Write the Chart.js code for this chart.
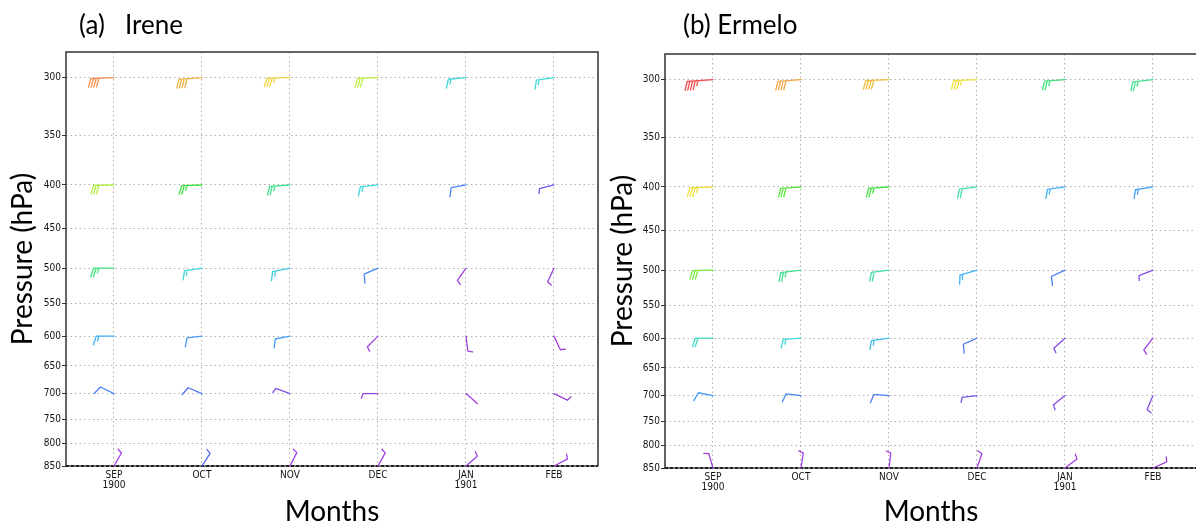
<!DOCTYPE html>
<html>
<head>
<meta charset="utf-8">
<script src="https://cdn.jsdelivr.net/npm/chart.js@4.4.1/dist/chart.umd.min.js"></script>
<style>
  html, body { margin: 0; padding: 0; background: #fff; overflow: hidden; }
  body { width: 1196px; height: 528px; position: relative; }
  .panel { position: absolute; top: 0; width: 600px; height: 528px; }
  .panel canvas { display: block; }
  .caption { position: absolute; top: 8px; font-family: Lato, "Open Sans", sans-serif; font-size: 26px; color: #000; white-space: pre; }
</style>
</head>
<body>
<div class="panel" style="left:0"><canvas id="windIrene" width="600" height="528"></canvas></div>
<div class="panel" style="left:600px"><canvas id="windErmelo" width="600" height="528"></canvas></div>
<div class="caption" style="left:79px">(a)</div>
<div class="caption" style="left:125px">Irene</div>
<div class="caption" style="left:683px">(b) Ermelo</div>
<script>
// months on the x axis, pressure levels on the y axis
const months = ["SEP", "OCT", "NOV", "DEC", "JAN", "FEB"];
const monthYears = ["1900", "", "", "", "1901", ""];
const levels = [300, 400, 500, 600, 700, 850];
const pressureTicks = [300, 350, 400, 450, 500, 550, 600, 650, 700, 750, 800, 850];

// wind speed (kt), one row per level, one column per month
const ireneSpeed = [
  [42, 39, 36, 32, 17, 17],
  [31, 27, 23, 17, 10, 6],
  [24, 17, 16, 10, 4, 4],
  [14, 12, 12, 4, 4, 4],
  [10, 8, 5, 4, 2, 4],
  [4, 7, 4, 4, 4, 4],
];
// wind direction (deg, blowing from)
const ireneDir = [
  [268, 266, 269, 268, 265, 262],
  [269, 268, 266, 264, 260, 256],
  [270, 261, 259, 247, 215, 205],
  [270, 263, 259, 225, 173, 155],
  [296, 293, 290, 270, 131, 116],
  [30, 33, 27, 29, 49, 63],
];

const ermeloSpeed = [
  [46, 40, 38, 35, 24, 23],
  [35, 28, 27, 22, 14, 13],
  [29, 23, 22, 14, 9, 5],
  [19, 17, 15, 9, 5, 4],
  [12, 10, 9, 6, 5, 5],
  [4, 4, 4, 4, 4, 4],
];
const ermeloDir = [
  [266, 266, 268, 268, 266, 264],
  [268, 266, 266, 263, 262, 261],
  [269, 263, 263, 254, 245, 249],
  [270, 266, 262, 246, 228, 218],
  [281, 277, 275, 263, 231, 203],
  [344, 9, 7, 19, 53, 66],
];

// speed -> rainbow colour
const speedColors = [
  [0, "#a040e0"], [4, "#a040e0"], [7, "#5068f0"], [11, "#4890f8"],
  [14, "#40b0f8"], [17, "#40d8d8"], [22, "#40e0a0"], [27, "#40e040"],
  [31, "#b0f040"], [35, "#f0e040"], [39, "#f0b040"], [42, "#f09050"],
  [46, "#f05050"],
];

function hexRgb(h) {
  return [1, 3, 5].map((i) => parseInt(h.substr(i, 2), 16));
}

function colorForSpeed(s) {
  if (s <= speedColors[0][0]) return speedColors[0][1];
  for (let i = 1; i < speedColors.length; i++) {
    const [s1, c1] = speedColors[i];
    if (s <= s1) {
      const [s0, c0] = speedColors[i - 1];
      const t = (s - s0) / (s1 - s0);
      const a = hexRgb(c0), b = hexRgb(c1);
      const m = a.map((v, k) => Math.round(v + (b[k] - v) * t));
      return `rgb(${m[0]},${m[1]},${m[2]})`;
    }
  }
  return speedColors[speedColors.length - 1][1];
}

// staff points into the wind, feathers sit on the southern-hemisphere side
function drawBarb(ctx, x, y, spd, dir) {
  const halves = Math.round(spd / 5);
  const full = Math.floor(halves / 2);
  const nLines = full + (halves % 2);
  const step = 2.7;
  const len = 15 + step * Math.max(nLines - 1, 0);
  const rad = (dir * Math.PI) / 180;
  const ux = Math.sin(rad), uy = -Math.cos(rad);
  const a = (-72 * Math.PI) / 180;
  const fx = ux * Math.cos(a) - uy * Math.sin(a);
  const fy = ux * Math.sin(a) + uy * Math.cos(a);

  ctx.save();
  ctx.strokeStyle = colorForSpeed(spd);
  ctx.lineWidth = 1.3;
  ctx.lineCap = "round";
  ctx.beginPath();
  ctx.moveTo(x, y);
  ctx.lineTo(x + ux * len, y + uy * len);
  for (let i = 0; i < nLines; i++) {
    const pos = len - i * step;
    const bx = x + ux * pos, by = y + uy * pos;
    const fl = i < full ? 9 : 5;
    ctx.moveTo(bx, by);
    ctx.lineTo(bx + fx * fl, by + fy * fl);
  }
  ctx.stroke();
  ctx.restore();
}

const frameBox = {
  id: "frameBox",
  beforeDatasetsDraw(chart) {
    const { ctx, chartArea: ca } = chart;
    ctx.save();
    ctx.strokeStyle = "#333";
    ctx.lineWidth = 1.5;
    ctx.beginPath();
    ctx.moveTo(ca.left, ca.bottom);
    ctx.lineTo(ca.left, ca.top);
    ctx.lineTo(ca.right, ca.top);
    ctx.lineTo(ca.right, ca.bottom);
    ctx.stroke();
    // bottom edge: grey line under a dark dashed one
    ctx.strokeStyle = "#777";
    ctx.lineWidth = 2;
    ctx.beginPath();
    ctx.moveTo(ca.left, ca.bottom);
    ctx.lineTo(ca.right, ca.bottom);
    ctx.stroke();
    ctx.setLineDash([3, 2]);
    ctx.strokeStyle = "#222";
    ctx.beginPath();
    ctx.moveTo(ca.left, ca.bottom);
    ctx.lineTo(ca.right, ca.bottom);
    ctx.stroke();
    ctx.restore();
  },
};

const windBarbs = {
  id: "windBarbs",
  afterDatasetsDraw(chart) {
    const { ctx } = chart;
    const { speed, dir } = chart.options.plugins.windBarbs;
    const xs = chart.scales.x, ys = chart.scales.y;
    levels.forEach((lev, r) => {
      months.forEach((m, c) => {
        drawBarb(ctx, xs.getPixelForValue(c), ys.getPixelForValue(lev), speed[r][c], dir[r][c]);
      });
    });
  },
};

const tickFont = { family: "'DejaVu Sans Condensed', 'Liberation Sans Narrow', sans-serif", size: 10, lineHeight: 1.05 };
const titleFont = { family: "Lato, 'Open Sans', sans-serif", size: 28 };

function windChart(id, speed, dir, pad, axisWidth, axisHeight) {
  const canvas = document.querySelector(id);
  return new Chart(canvas, {
    type: "scatter",
    data: {
      datasets: [
        {
          data: levels.flatMap((lev) => months.map((m, c) => ({ x: c, y: lev }))),
          pointRadius: 0,
          pointHoverRadius: 0,
        },
      ],
    },
    options: {
      responsive: false,
      animation: false,
      events: [],
      layout: { padding: pad },
      plugins: {
        legend: { display: false },
        tooltip: { enabled: false },
        windBarbs: { speed: speed, dir: dir },
      },
      scales: {
        x: {
          type: "linear",
          min: -0.545,
          max: 5.5,
          afterBuildTicks: (s) => {
            s.ticks = months.map((m, i) => ({ value: i }));
          },
          afterFit: (s) => {
            s.height = axisHeight;
          },
          ticks: {
            autoSkip: false,
            maxRotation: 0,
            padding: 4,
            color: "#111",
            font: tickFont,
            callback: (v) => (monthYears[v] ? [months[v], monthYears[v]] : months[v]),
          },
          grid: { color: "#b0b0b0", drawTicks: false },
          border: { display: false, dash: [1.5, 3] },
          title: {
            display: true,
            text: "Months",
            color: "#000",
            font: titleFont,
            padding: { top: 0, bottom: -1 },
          },
        },
        y: {
          type: "logarithmic",
          reverse: true,
          min: 280,
          max: 850,
          afterBuildTicks: (s) => {
            s.ticks = pressureTicks.map((v) => ({ value: v }));
          },
          afterFit: (s) => {
            s.width = axisWidth;
          },
          ticks: {
            autoSkip: false,
            padding: 1,
            color: "#111",
            font: tickFont,
            callback: (v) => String(v),
          },
          grid: { color: "#b0b0b0", tickLength: 4, tickColor: "#333", tickBorderDash: [] },
          border: { display: false, dash: [1.5, 3] },
          title: {
            display: true,
            text: "Pressure (hPa)",
            color: "#000",
            font: titleFont,
            padding: { top: 6, bottom: 0 },
          },
        },
      },
    },
    plugins: [frameBox, windBarbs],
  });
}

windChart("#windIrene", ireneSpeed, ireneDir, { top: 52, right: 2, left: 0, bottom: 0 }, 66, 62);
windChart("#windErmelo", ermeloSpeed, ermeloDir, { top: 54, right: 3, left: 0, bottom: 0 }, 65, 60);
</script>
</body>
</html>
